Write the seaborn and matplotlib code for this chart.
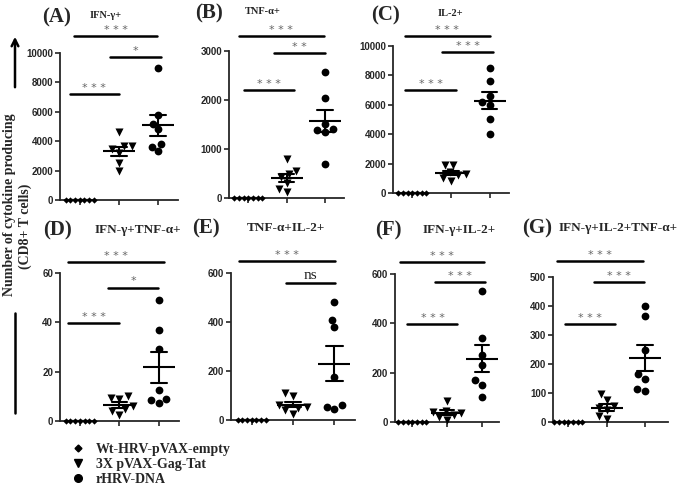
"""
Cytokine producing CD8+ T cells per vaccine group (panels A-G).
"""

import numpy as np
import pandas as pd
import seaborn as sns
import matplotlib.pyplot as plt
from matplotlib.lines import Line2D
from matplotlib.patches import FancyArrowPatch

W, H = 685, 490

groups = ["Wt-HRV-pVAX-empty", "3X pVAX-Gag-Tat", "rHRV-DNA"]
markers = ["D", "v", "o"]
marker_sizes = [3.2, 5.8, 5.6]

# values, one list per group
ifng = [[0, 0, 0, 0, 0, 0, 0],
        [4600, 3700, 3650, 3500, 3200, 2500, 1950],
        [9000, 5800, 5200, 4800, 3800, 3600, 3300]]
tnfa = [[0, 0, 0, 0, 0, 0, 0],
        [800, 550, 480, 420, 300, 180, 120],
        [2570, 2040, 1520, 1400, 1380, 1350, 700]]
il2 = [[0, 0, 0, 0, 0, 0, 0],
       [1900, 1900, 1400, 1300, 1200, 1000, 850],
       [8500, 7600, 6600, 6200, 6000, 5000, 4000]]
ifng_tnfa = [[0, 0, 0, 0, 0, 0, 0],
             [10, 9.5, 9, 6, 5, 4, 2.5],
             [49, 37, 29, 12.5, 9, 8.5, 7.5]]
tnfa_il2 = [[0, 0, 0, 0, 0, 0, 0],
            [110, 100, 60, 55, 50, 40, 25],
            [480, 410, 380, 175, 60, 55, 45]]
ifng_il2 = [[0, 0, 0, 0, 0, 0, 0],
            [85, 45, 40, 35, 30, 20, 10],
            [530, 340, 270, 230, 170, 150, 100]]
triple = [[0, 0, 0, 0, 0, 0, 0],
          [95, 75, 55, 50, 40, 20, 10],
          [400, 365, 250, 165, 150, 115, 108]]

titles = ["IFN-γ+", "TNF-α+", "IL-2+", "IFN-γ+TNF-α+",
          "TNF-α+IL-2+", "IFN-γ+IL-2+", "IFN-γ+IL-2+TNF-α+"]
letters = ["(A)", "(B)", "(C)", "(D)", "(E)", "(F)", "(G)"]
ymax = [10000, 3000, 10000, 60, 600, 600, 500]
ystep = [2000, 1000, 2000, 20, 200, 200, 100]

SERIF = "Liberation Serif"


def px_box(left, right, y0, ytop):
    return [left / W, 1 - y0 / H, (right - left) / W, (y0 - ytop) / H]


def draw_panel(fig, values, top, step, box, xlim, sigs):
    ax = fig.add_axes(px_box(*box))
    df = pd.DataFrame({
        "group": [g for g, v in zip(groups, values) for _ in v],
        "value": [x for v in values for x in v],
    })
    for g, m, s in zip(groups, markers, marker_sizes):
        sns.swarmplot(data=df[df.group == g], x="group", y="value", order=groups,
                      marker=m, color="black", size=s, ax=ax, clip_on=False, zorder=4)
    sns.pointplot(data=df, x="group", y="value", order=groups, errorbar="se",
                  capsize=0.4, color="black", marker="_", markersize=23,
                  markeredgewidth=1.5, linestyle="none",
                  err_kws={"linewidth": 1.5}, ax=ax)

    ax.set_xlim(*xlim)
    ax.set_ylim(0, top)
    ax.set_yticks(np.arange(0, top + 1, step))
    ax.set_xticks([0, 1, 2])
    ax.set_xticklabels([])
    ax.set_xlabel("")
    ax.set_ylabel("")
    sns.despine(ax=ax)
    for side in ["left", "bottom"]:
        ax.spines[side].set_linewidth(1.3)
    ax.tick_params(axis="both", length=3.5, width=1.2, labelsize=7, pad=1.5)

    for x1, x2, frac, label in sigs:
        y = frac * top
        ax.plot([x1, x2], [y, y], color="black", lw=1.8, clip_on=False)
        if label == "ns":
            ax.annotate(label, xy=((x1 + x2) / 2, y), xytext=(0, 1), textcoords="offset points",
                        ha="center", va="bottom", fontsize=11, family=SERIF,
                        fontweight="normal", color="#222222", annotation_clip=False)
        else:
            ax.annotate(label, xy=((x1 + x2) / 2, y), xytext=(0, 1), textcoords="offset points",
                        ha="center", va="bottom", fontsize=8, family="DejaVu Sans",
                        fontweight="normal", color="#666666", annotation_clip=False)
    return ax


def main():
    sns.set_style("ticks")
    plt.rcParams["font.family"] = ["Liberation Sans", "DejaVu Sans"]
    plt.rcParams["font.weight"] = "bold"

    fig = plt.figure(figsize=(W / 100, H / 100), dpi=100)

    all_values = [ifng, tnfa, il2, ifng_tnfa, tnfa_il2, ifng_il2, triple]
    boxes = [(60, 178, 200, 53), (229, 344, 198, 51), (393, 509, 193, 46),
             (60, 179, 421, 273), (231, 355, 420, 273), (395, 499, 422, 274),
             (553, 668, 422, 277)]
    xlims = [(-0.5, 2.5)] * 6 + [(-0.4, 2.6)]
    sigs = [
        [(-0.15, 1.97, 1.116, "* * *"), (0.77, 2.08, 0.973, "*"), (-0.25, 1.0, 0.721, "* * *")],
        [(-0.24, 1.97, 1.102, "* * *"), (0.68, 2.0, 0.986, "* *"), (-0.1, 1.2, 0.735, "* * *")],
        [(-0.2, 2.0, 1.068, "* * *"), (0.78, 2.08, 0.959, "* * *"), (-0.18, 1.12, 0.70, "* * *")],
        [(-0.3, 2.13, 1.074, "* * *"), (0.71, 1.97, 0.90, "*"), (-0.3, 0.99, 0.66, "* * *")],
        [(-0.31, 2.02, 1.08, "* * *"), (0.82, 2.02, 0.93, "ns")],
        [(-0.35, 2.06, 1.08, "* * *"), (0.64, 2.09, 0.946, "* * *"), (-0.14, 1.3, 0.66, "* * *")],
        [(-0.29, 1.95, 1.11, "* * *"), (0.68, 1.97, 0.965, "* * *"), (-0.08, 1.22, 0.676, "* * *")],
    ]
    for i in range(7):
        draw_panel(fig, all_values[i], ymax[i], ystep[i], boxes[i], xlims[i], sigs[i])

    letter_pos = [(57, 17), (209, 13), (385, 15), (57, 230), (206, 228), (388, 230), (537, 228)]
    title_pos = [(106, 15), (263, 12), (450, 14), (138, 230), (286, 228), (459, 230), (618, 228)]
    title_size = [7.5, 7.5, 7.5, 9.5, 9.5, 9.5, 9.5]
    for i in range(7):
        fig.text(letter_pos[i][0] / W, 1 - letter_pos[i][1] / H, letters[i], ha="center",
                 va="center", family=SERIF, fontweight="bold", fontsize=15)
        fig.text(title_pos[i][0] / W, 1 - title_pos[i][1] / H, titles[i], ha="center",
                 va="center", family=SERIF, fontweight="bold", fontsize=title_size[i])

    # shared y label with arrow
    fig.text(10 / W, 1 - 205 / H, "Number of cytokine producing", rotation=90,
             ha="center", va="center", family=SERIF, fontweight="bold", fontsize=10)
    fig.text(25 / W, 1 - 226 / H, "(CD8+ T cells)", rotation=90,
             ha="center", va="center", family=SERIF, fontweight="bold", fontsize=10)
    fig.add_artist(FancyArrowPatch((15 / W, 1 - 90 / H), (15 / W, 1 - 34 / H),
                                   transform=fig.transFigure, arrowstyle="->",
                                   mutation_scale=12, lw=1.8, color="black"))
    fig.add_artist(Line2D([15 / W, 15 / W], [1 - 313 / H, 1 - 413 / H],
                          transform=fig.transFigure, lw=1.8, color="black"))

    handles = [Line2D([], [], marker=m, color="black", linestyle="none", markersize=s)
               for m, s in zip(markers, [3.5, 5.5, 5.5])]
    fig.legend(handles, groups, loc="upper left", bbox_to_anchor=(72 / W, 1 - 443 / H),
               frameon=False, prop={"family": SERIF, "weight": "bold", "size": 10},
               handlelength=0.8, handletextpad=0.9, labelspacing=0.15,
               borderaxespad=0, borderpad=0)

    fig.savefig("out.png", dpi=100)


if __name__ == "__main__":
    main()
